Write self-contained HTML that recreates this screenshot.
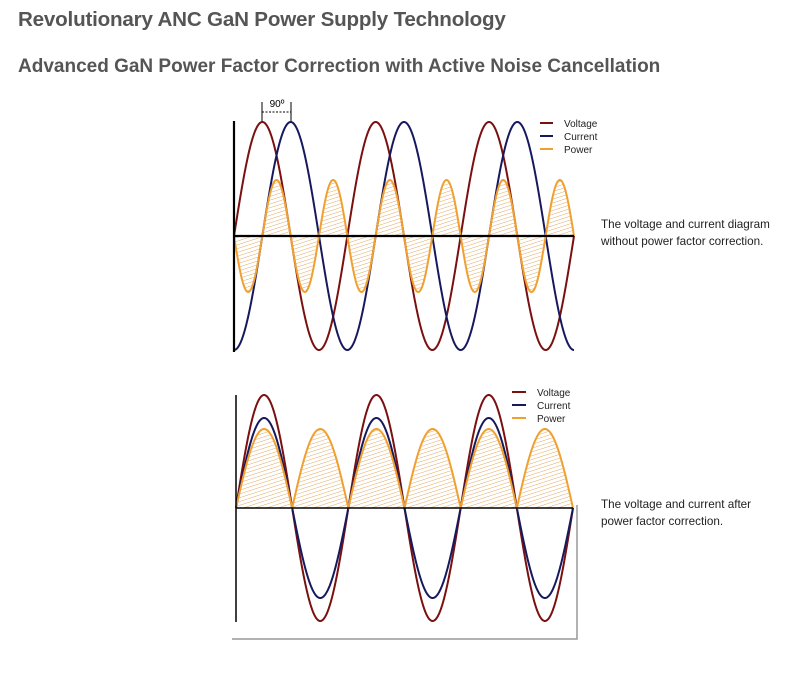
<!DOCTYPE html>
<html><head><meta charset="utf-8"><style>
body{margin:0;background:#fff;width:800px;height:675px;overflow:hidden;font-family:"Liberation Sans",sans-serif;}
.t1{position:absolute;left:18px;top:8px;font-size:20.6px;font-weight:bold;color:#555;letter-spacing:-0.2px}
.t2{position:absolute;left:18px;top:56px;font-size:19px;font-weight:bold;color:#555;letter-spacing:0px}
.side{position:absolute;left:601px;font-size:11.7px;color:#222;line-height:16.5px}
svg{position:absolute;left:0;top:0}
</style></head><body>
<div class="t1">Revolutionary ANC GaN Power Supply Technology</div>
<div class="t2">Advanced GaN Power Factor Correction with Active Noise Cancellation</div>
<div class="side" style="top:217px">The voltage and current diagram<br>without power factor correction.</div>
<div class="side" style="top:497px">The voltage and current after<br>power factor correction.</div>
<svg width="800" height="675" xmlns="http://www.w3.org/2000/svg">
<defs>
<pattern id="h" width="4" height="3.6" patternUnits="userSpaceOnUse" patternTransform="rotate(-18)">
<line x1="0" y1="0" x2="4" y2="0" stroke="#e0a050" stroke-width="0.9"/></pattern>
<clipPath id="c1"><path id="cp1"/></clipPath>
<clipPath id="c2"><path id="cp2"/></clipPath>
</defs>
<g id="g1"></g><g id="g2"></g>
<polyline points="232,639 577,639 577,505" fill="none" stroke="#999" stroke-width="1.5"/>
<line x1="262" y1="102" x2="262" y2="121" stroke="#000" stroke-width="1"/>
<line x1="291" y1="102" x2="291" y2="121" stroke="#000" stroke-width="1"/>
<line x1="262" y1="112" x2="291" y2="112" stroke="#000" stroke-width="1" stroke-dasharray="2,1.5"/>
<text x="277" y="107" font-size="10" text-anchor="middle" fill="#000">90º</text>
<g font-size="10" fill="#222">
<line x1="540" y1="123" x2="553" y2="123" stroke="#7a1010" stroke-width="2"/><text x="564" y="127">Voltage</text>
<line x1="540" y1="136" x2="553" y2="136" stroke="#16195e" stroke-width="2"/><text x="564" y="140">Current</text>
<line x1="540" y1="149" x2="553" y2="149" stroke="#f0a030" stroke-width="2"/><text x="564" y="153">Power</text>
<line x1="512" y1="392" x2="526" y2="392" stroke="#7a1010" stroke-width="2"/><text x="537" y="396">Voltage</text>
<line x1="512" y1="405" x2="526" y2="405" stroke="#16195e" stroke-width="2"/><text x="537" y="409">Current</text>
<line x1="512" y1="418" x2="526" y2="418" stroke="#f0a030" stroke-width="2"/><text x="537" y="422">Power</text>
</g>
</svg>
<script>
function P(x0,x1,f){let d='';for(let x=x0;x<=x1+0.01;x+=0.5){d+=(d?'L':'M')+x.toFixed(2)+','+f(x).toFixed(2);}return d;}
const NS='http://www.w3.org/2000/svg';
function add(g,tag,attrs){const e=document.createElementNS(NS,tag);for(const k in attrs)e.setAttribute(k,attrs[k]);document.getElementById(g).appendChild(e);return e;}
(function(){const x0=234,x1=574,b=236,T=(x1-x0)/3,A=114,Ap=56;
const th=x=>2*Math.PI*(x-x0)/T;
const pw=P(x0,x1,x=>b+Ap*Math.sin(2*th(x)));
document.getElementById('cp1').setAttribute('d',pw+'L'+x1+','+b+'L'+x0+','+b+'Z');
add('g1','rect',{x:x0,y:170,width:x1-x0,height:140,fill:'url(#h)','clip-path':'url(#c1)'});
add('g1','path',{d:P(x0,x1,x=>b-A*Math.sin(th(x))),fill:'none',stroke:'#7a1010','stroke-width':2});
add('g1','path',{d:P(x0,x1,x=>b+A*Math.cos(th(x))),fill:'none',stroke:'#16195e','stroke-width':2});
add('g1','path',{d:pw,fill:'none',stroke:'#f0a030','stroke-width':2});
add('g1','line',{x1:x0,y1:b,x2:x1,y2:b,stroke:'#000','stroke-width':2.2});
add('g1','line',{x1:x0,y1:121,x2:x0,y2:352,stroke:'#000','stroke-width':2.2});
})();
(function(){const x0=236,x1=573,b=508,T=(x1-x0)/3;
const th=x=>2*Math.PI*(x-x0)/T;
const pw=P(x0,x1,x=>b-79*Math.abs(Math.sin(th(x))));
document.getElementById('cp2').setAttribute('d',pw+'L'+x1+','+b+'L'+x0+','+b+'Z');
add('g2','rect',{x:x0,y:420,width:x1-x0,height:90,fill:'url(#h)','clip-path':'url(#c2)'});
add('g2','path',{d:P(x0,x1,x=>b-113*Math.sin(th(x))),fill:'none',stroke:'#7a1010','stroke-width':2});
add('g2','path',{d:P(x0,x1,x=>b-90*Math.sin(th(x))),fill:'none',stroke:'#16195e','stroke-width':2});
add('g2','path',{d:pw,fill:'none',stroke:'#f0a030','stroke-width':2});
add('g2','line',{x1:x0,y1:b,x2:x1,y2:b,stroke:'#000','stroke-width':1.5});
add('g2','line',{x1:x0,y1:395,x2:x0,y2:622,stroke:'#000','stroke-width':1.5});
})();
</script>
</body></html>
